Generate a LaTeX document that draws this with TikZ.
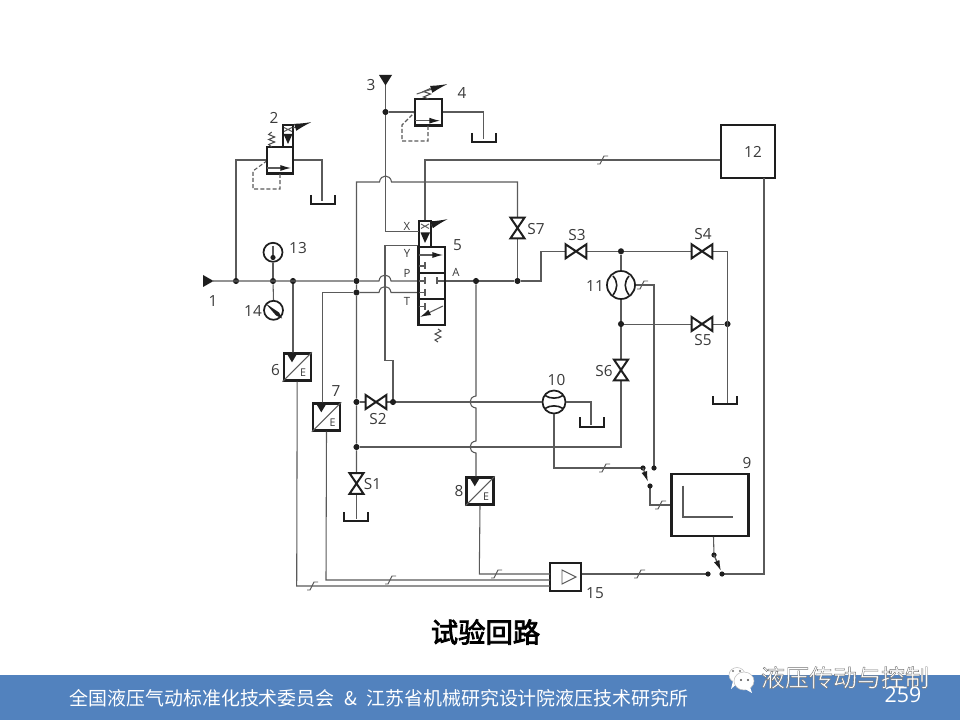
\documentclass[tikz,border=0pt]{standalone}
\usepackage{fontspec}
\setmainfont{Open Sans}
\newfontfamily\cjk{Noto Sans CJK SC}
\newfontfamily\cjkb[FakeBold=3]{Noto Sans CJK SC}
\usetikzlibrary{arrows.meta,calc}
\definecolor{wirec}{HTML}{5A5A5A}
\definecolor{compc}{HTML}{1E1E1E}
\definecolor{labc}{HTML}{3A3A3A}
\definecolor{barc}{HTML}{5282BE}
\tikzset{
  wire/.style={draw=wirec,line width=0.8pt},
  thin wire/.style={draw=wirec,line width=0.7pt},
  comp/.style={draw=compc,line width=1.5pt,line join=miter},
  boxn/.style={draw=compc,line width=1.8pt,inner sep=0pt,fill=white},
  vlv/.style={inner sep=0pt,minimum width=15pt,minimum height=10pt},
  vlvv/.style={inner sep=0pt,minimum width=10pt,minimum height=15pt},
  dotn/.style={circle,fill=compc,inner sep=0pt,minimum size=4.6pt},
  lab/.style={text=labc,font=\fontsize{11.5}{13}\selectfont,inner sep=0pt},
  port/.style={text=labc,font=\fontsize{8.5}{10}\selectfont,inner sep=0pt},
  pilotdash/.style={draw=wirec,line width=0.8pt,dash pattern=on 3pt off 1.6pt},
  flowtip/.style={-{Latex[length=8pt,width=4.5pt,color=compc]}},
  bigtip/.style={-{Latex[length=13pt,width=5.5pt,color=compc]}},
}
\newcommand{\hophere}[2]{-- ({#1-6},#2) .. controls ({#1-5},{#2-8}) and ({#1+5},{#2-8}) .. ({#1+6},#2)}
\newcommand{\hopv}[2]{-- (#1,{#2-6}) .. controls ({#1-8},{#2-5}) and ({#1-8},{#2+5}) .. (#1,{#2+6})}
\newcommand{\bowh}[1]{\draw[comp] (#1.north west)--(#1.south east)--(#1.north east)--(#1.south west)--cycle;}
\newcommand{\bowv}[1]{\draw[comp] (#1.north west)--(#1.south east)--(#1.south west)--(#1.north east)--cycle;}
\newcommand{\tankn}[3]{\draw[comp] ({#1-12},#2)--({#1-12},#3)--({#1+12},#3)--({#1+12},#2);}
\newcommand{\tick}[2]{\draw[thin wire] ({#1+5},{#2-4})--({#1+1},{#2-4})--({#1-3},{#2+4})--({#1-6},{#2+4});}
\newcommand{\sensor}[1]{%
  \draw[thin wire,line width=0.8pt] (#1.south west)--(#1.north east);
  \fill[compc] ($(#1.north west)+(3.5,0)$)--($(#1.north west)+(15.5,0)$)--($(#1.north west)+(9.5,10)$)--cycle;
  \node[text=labc,inner sep=0pt,font=\fontsize{8}{9}\selectfont] at ($(#1.center)+(6,6)$) {E};}
\newcommand{\springv}[2]{\draw[compc!80,line width=0.8pt] (#1,#2)--++(-3,-2)--++(6,-3)--++(-6,-3)--++(6,-3)--++(-3,-2);}
\newcommand{\outlined}[1]{\special{pdf:code 2 Tr 0.3 w 0.45 G}#1\special{pdf:code 0 Tr}}
\begin{document}
\begin{tikzpicture}[x=0.75pt,y=-0.75pt]
\useasboundingbox (0,0) rectangle (960,720);
\fill[white] (0,0) rectangle (960,720);

% junctions
\foreach \n/\x/\y in {j1/236/281,j13/273/281,j6/293/281,jp/356.5/281,jt/356.5/292.5,jA/476/281,jS7/517.5/281,
  j3/385.5/112,jtop/621/251.3,jm/621/324,jr/727.5/324,jsl/356.5/402,jsr/393/402,
  jb/356.5/447}
  \node[dotn] (\n) at (\x,\y) {};

% components with named nodes
\node[boxn,minimum width=54*0.75pt,minimum height=53*0.75pt] (b12) at (748,151.5) {};
\node[boxn,minimum width=77*0.75pt,minimum height=62*0.75pt] (b9) at (710,504.7) {};
\node[boxn,minimum width=31*0.75pt,minimum height=28*0.75pt] (b15) at (565.5,577) {};
\node[boxn,minimum width=27*0.75pt,minimum height=27*0.75pt] (s6) at (297.2,367) {};
\node[boxn,minimum width=27*0.75pt,minimum height=27*0.75pt] (s7) at (326.5,417) {};
\node[boxn,minimum width=27*0.75pt,minimum height=27*0.75pt] (s8) at (480,491) {};
\node[vlv] (S3) at (576,251.3) {};
\node[vlv] (S4) at (702,251.3) {};
\node[vlv] (S5) at (702,324) {};
\node[vlv] (S2) at (376,402) {};
\node[vlvv] (S7) at (517.5,228) {};
\node[vlvv] (S6) at (621,370) {};
\node[vlvv] (S1) at (356.5,483.5) {};
\node[circle,draw=compc,line width=1.3pt,inner sep=0pt,minimum size=28*0.75pt] (m11) at (621,285) {};
\node[circle,draw=compc,line width=1.3pt,inner sep=0pt,minimum size=23*0.75pt] (m10) at (554,402) {};
\node[circle,draw=compc,line width=1.3pt,inner sep=0pt,minimum size=19*0.75pt] (g13) at (273,252.3) {};
\node[circle,draw=compc,line width=1.3pt,inner sep=0pt,minimum size=19*0.75pt] (g14) at (273.5,310.3) {};
\node[boxn,minimum width=26.5*0.75pt,minimum height=26.5*0.75pt] (v2) at (280,160.4) {};
\node[boxn,minimum width=27*0.75pt,minimum height=26.5*0.75pt] (v4) at (428.5,112.4) {};
\node[boxn,minimum width=10.5*0.75pt,minimum height=22*0.75pt] (p2) at (288,136) {};
\node[boxn,minimum width=12.5*0.75pt,minimum height=26*0.75pt] (p5) at (425,234) {};
\node[boxn,minimum width=27*0.75pt,minimum height=78*0.75pt] (v5) at (431.5,286) {};
\coordinate (src) at (213,281);
\coordinate (dst3) at (385.5,85);
\coordinate (sw1a) at (643,468);
\coordinate (sw1c) at (654,468);
\coordinate (sw1b) at (650,486);
\coordinate (sw2a) at (714,555);
\coordinate (sw2b) at (722,574);
\coordinate (sw2c) at (708,574);

% wires
\begin{scope}[on background layer/.style={}]
\draw[wire] (src) -- (jp) \hophere{385}{281} -- (418,281);
\draw[wire] (v5.east |- jA) -- (jA) -- (jS7) -- (541,281) -- (541,251.3) -- (S3.west);
\draw[wire] (S3.east) -- (jtop) -- (S4.west);
\draw[wire] (S4.east) -- (727.5,251.3) -- (727.5,403);
\draw[wire] (jtop) -- (m11.north);
\draw[wire] (m11.south) -- (jm) -- (S6.north);
\draw[thin wire] (jm) -- (S5.west);
\draw[thin wire] (S5.east) -- (jr);
\draw[wire] (S6.south) -- (621,447) -- (jb);
\draw[wire] (jS7) -- (S7.south);
\draw[wire] (S7.north) -- (517.5,182) -- (391.5,182) .. controls (390.5,174) and (380.5,174) .. (379.5,182) -- (356.5,182) -- (jp) -- (jt) -- (jsl) -- (jb) -- (S1.north);
\draw[wire] (S1.south) -- (356.5,519);
\draw[wire] (jsl) -- (S2.west);
\draw[wire] (S2.east) -- (jsr);
\draw[wire] (jsr) -- (393,360.7) -- (385,360.7) -- (385,245.3) -- (418,245.3);
\draw[wire] (jsr) -- (m10.west);
\draw[wire] (jA) \hopv{476}{402} \hopv{476}{447} -- (476,478);
\draw[wire] (m10.east) -- (591,402) -- (591,425);
\draw[wire] (m10.south) -- (554,468) -- (sw1a);
\draw[wire] (m11.east) -- (654,285) -- (sw1c);
\draw[wire] (sw1b) -- (650,505) -- (b9.west |- 0,505);
\draw[wire] (b9.south -| 713.5,0) -- (sw2a);
\draw[wire] (b15.east |- sw2c) -- (sw2c);
\draw[wire] (sw2b) -- (764,574) -- (764,178);
\draw[wire] (b12.west |- 0,160) -- (425,160) -- (p5.north);
\draw[wire] (jt) \hophere{385}{292.5} -- (418,292.5);
\draw[wire] (jt) -- (322.7,292.5) -- (322.7,404);
\draw[wire] (j6) -- (293,353);
\draw[wire] (j13) -- (g13.south);
\draw[wire] (j13) -- (g14.north);
\draw[wire] (j1) -- (236,160) -- (v2.west |- 0,160);
\draw[wire] (v2.east |- 0,160) -- (322,160) -- (322,201);
\draw[wire] (dst3) -- (j3) -- (385.5,231.7) -- (419,231.7);
\draw[wire] (j3) -- (v4.west |- j3);
\draw[wire] (v4.east |- j3) -- (483.5,112) -- (483.5,139);
\draw[wire] (s6.south) -- (296.7,586) -- (550,586);
\draw[wire] (s7.south) -- (326,580) -- (550,580);
\draw[wire] (s8.south) -- (479.3,574) -- (550,574);
\end{scope}

% ticks
\tick{603}{160}\tick{643}{285}\tick{605}{468}\tick{661}{505}\tick{497}{574}\tick{391}{580}\tick{313}{586}\tick{640}{574}

% valves
\bowh{S3}\bowh{S4}\bowh{S5}\bowh{S2}\bowv{S7}\bowv{S6}\bowv{S1}

% tanks
\tankn{323}{195}{204}\tankn{483.5}{133}{142}\tankn{592}{417}{427}\tankn{725}{396}{404}\tankn{356}{512}{521}

% source triangles
\fill[compc] (203,275)--(213.5,281)--(203,287)--cycle;
\fill[compc] (379,75)--(392,75)--(385.5,85.5)--cycle;

% relief valve 2
\draw[wire,flowtip] (267,168)--(291,168);
\draw[pilotdash] (280,174)--(280,189)--(253,189)--(253,171)--(266,161.5);
\draw[compc!80,line width=0.8pt] (271.7,147)--++(-3,-2.5)--++(6,-2.5)--++(-6,-2.5)--++(6,-2.5)--++(-6,-2.5)--++(3,-2.5);
\fill[compc] (283.5,134)--(292.5,134)--(288,144)--cycle;
\draw[wirec,line width=0.7pt] (284,127.5)--(292,131.5) (292,127.5)--(284,131.5);
\draw[wire,bigtip] (293,128)--(311.7,122);

% relief valve 4
\draw[wire,flowtip] (415,120.7)--(440,120.7);
\draw[pilotdash] (428,126)--(428,141)--(402,141)--(402,125)--(414,113);
\draw[compc!80,line width=0.8pt] (428.5,99)--++(-5,-2)--++(7,-3)--++(-7,-2.5)--++(7,-3);
\draw[wire,bigtip] (416.7,94)--(447.7,84);

% directional valve 5
\draw[comp] (v5.west |- 0,273)--(v5.east |- 0,273) (v5.west |- 0,299)--(v5.east |- 0,299);
\draw[compc,line width=2.3pt] (418.5,247.5)--(418.5,325);
\draw[wire,flowtip] (419,255)--(443,255);
\draw[wire] (419,266)--(425,266) (425,262.5)--(425,269.5);
\draw[wire] (419,281)--(425,281) (425,277.5)--(425,284.5);
\draw[wire] (444,281)--(437,281) (437,277.5)--(437,284.5);
\draw[wire] (419,292.5)--(425,292.5) (425,289)--(425,296);
\draw[wire] (419,306.7)--(425,306.7) (425,303.2)--(425,310.2);
\draw[wire,flowtip] (443,306)--(420,317);
\springv{438}{342}
\fill[compc] (420.5,232.5)--(430,232.5)--(425,243)--cycle;
\draw[wirec,line width=0.7pt] (421,224)--(429,228.5) (429,224)--(421,228.5);
\draw[wire,bigtip] (431,225)--(448,219);

% box 9 axes, box 15 triangle
\draw[wire] (683,485.7)--(683,517)--(733,517);
\draw[wirec,line width=0.7pt] (562,570)--(576,577)--(562,584)--cycle;

% sensors
\sensor{s6}\sensor{s7}\sensor{s8}

% meters
\draw[compc,line width=1.2pt] (613,276) .. controls (618,282) and (618,288) .. (613,295);
\draw[compc,line width=1.2pt] (629,276) .. controls (624,282) and (624,288) .. (629,295);
\draw[compc,line width=1.2pt] (545,395.5) .. controls (550,399) and (558,399) .. (563,395.5);
\draw[compc,line width=1.2pt] (545,408.5) .. controls (550,405) and (558,405) .. (563,408.5);
\draw[wire] (273,246)--(273,257);
\fill[compc] (273,257.5) circle[radius=2.6];
\fill[compc] (265.7,303.5)--(279,312.5)--(282,318.5)--(276,315.5)--cycle;

% switches
\foreach \c in {sw1a,sw1c,sw1b,sw2a,sw2b,sw2c} \fill[compc] (\c) circle[radius=2.6];
\draw[wire,line width=1pt,flowtip] (sw1a)--(648,482);
\draw[wire,line width=1pt,flowtip] (sw2a)--(721,571);

% labels
\foreach \t/\x/\y in {1/213/301,2/274/118,3/371/85,4/462/93,5/457.5/245,6/275.5/370,7/336/391,8/459/491,9/747/463,10/556.5/380,11/595/286,12/753/152,13/298/248,14/253/311,15/595/593,S1/372.5/484,S2/378/419,S3/577/235,S4/703/234,S5/703/340.5,S6/604/371,S7/536/229}
  \node[lab] at (\x,\y) {\t};
\foreach \t/\x/\y in {X/407/226,Y/407/253,P/407/273,T/407/301,A/456/272}
  \node[port] at (\x,\y) {\t};

% caption
\node[inner sep=0pt,font=\fontsize{20.5}{24}\selectfont\cjkb] (title) at (485.5,632) {试验回路};

% footer
\fill[barc] (0,675) rectangle (960,720);
\node[inner sep=0pt,text=white,font=\fontsize{14.2}{16}\selectfont\cjk] (foot) at (379,698) {全国液压气动标准化技术委员会\hspace{0.5em}\&\hspace{0.5em}江苏省机械研究设计院液压技术研究所};
\fill[white,draw=black!25,line width=0.4pt] (737,675) ellipse[x radius=8,y radius=7.5];
\fill[white] (733,681)--(731,689)--(739,682)--cycle;
\fill[white,draw=black!25,line width=0.4pt] (744,681) ellipse[x radius=10,y radius=9];
\fill[white] (750,687)--(752,693)--(745,689)--cycle;
\fill[black!55] (733,671) circle[radius=1.1] (740,671) circle[radius=1.1];
\fill[black!70] (741,680) circle[radius=1.1] (748,680) circle[radius=1.1];
\node[inner sep=0pt,text=white,font=\fontsize{18}{20}\selectfont\cjk] (wm) at (845,677.5) {\outlined{液压传动与控制}};
\node[inner sep=0pt,text=white,font=\fontsize{16}{18}\selectfont] (pg) at (903,695) {259};
\end{tikzpicture}
\end{document}
